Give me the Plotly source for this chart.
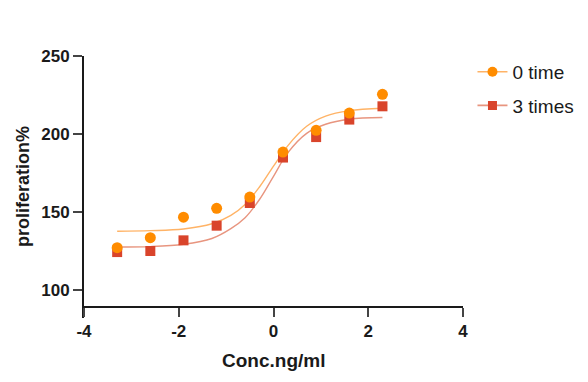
import plotly.graph_objects as go

# measured data
conc = [-3.3, -2.6, -1.9, -1.2, -0.5, 0.2, 0.9, 1.6, 2.3]
time0 = [127.3, 133.7, 146.8, 152.5, 159.7, 188.5, 202.4, 213.5, 225.5]
times3 = [124.5, 125.2, 132.0, 141.4, 155.9, 185.0, 198.1, 209.3, 217.8]

# fitted curves
curve_x = [-3.3, -2.6, -1.9, -1.3, -0.9, -0.6, -0.3, 0.0, 0.3, 0.7, 1.1, 1.6, 2.3]
curve0 = [137.8, 138.2, 139.3, 142.6, 148.0, 155.0, 166.0, 179.5, 192.5, 205.0, 211.5, 215.0, 216.6]
curve3 = [127.7, 128.0, 129.5, 133.2, 139.5, 146.5, 158.0, 173.0, 188.0, 200.5, 206.3, 209.5, 210.6]

names = ["0 time", "3 times"]
x_ticks = [-4, -2, 0, 2, 4]
x_labels = ["-4", "-2", "0", "2", "4"]
y_ticks = [100, 150, 200, 250]
x_title = "Conc.ng/ml"
y_title = "proliferation%"

c0_mk, c0_ln = "#FF8C00", "#FFB366"
c3_mk, c3_ln = "#D9442B", "#E8957F"
INK = "#1a1a1a"
FONT = "Arial, Liberation Sans, sans-serif"

fig = go.Figure()
fig.add_trace(go.Scatter(x=curve_x, y=curve0, mode="lines", line=dict(color=c0_ln, width=1.4, shape="spline"), showlegend=False))
fig.add_trace(go.Scatter(x=curve_x, y=curve3, mode="lines", line=dict(color=c3_ln, width=1.4, shape="spline"), showlegend=False))
fig.add_trace(go.Scatter(x=conc, y=times3, mode="markers", marker=dict(symbol="square", size=10, color=c3_mk), showlegend=False))
fig.add_trace(go.Scatter(x=conc, y=time0, mode="markers", marker=dict(symbol="circle", size=11, color=c0_mk), showlegend=False))
# legend entries
fig.add_trace(go.Scatter(x=[None], y=[None], mode="lines+markers", name=names[0], legendgroup="a",
                         line=dict(color=c0_ln, width=1.6), marker=dict(symbol="circle", size=10, color=c0_mk)))
fig.add_trace(go.Scatter(x=[None], y=[None], mode="lines+markers", name=names[1], legendgroup="b",
                         line=dict(color=c3_ln, width=1.6), marker=dict(symbol="square", size=9, color=c3_mk)))

fig.update_layout(
    width=580, height=374,
    margin=dict(l=76, r=125, t=48, b=64, autoexpand=False),
    plot_bgcolor="white", paper_bgcolor="white",
    font=dict(family=FONT, size=15, color=INK),
    legend=dict(x=1.025, y=1.012, xanchor="left", yanchor="top", tracegroupgap=6,
                font=dict(family=FONT, size=19, color=INK), bgcolor="rgba(0,0,0,0)"),
    xaxis=dict(range=[-4, 4], tickvals=x_ticks, ticktext=x_labels, ticks="outside", ticklen=9, tickwidth=2,
               showline=True, linewidth=2, linecolor=INK, showgrid=False, zeroline=False,
               anchor="free", position=0.042, automargin=False,
               tickfont=dict(family=FONT, size=17, color=INK, weight="bold")),
    yaxis=dict(range=[82.3, 250], tickvals=y_ticks, ticks="outside", ticklen=9, tickwidth=2,
               showline=True, linewidth=2, linecolor=INK, showgrid=False, zeroline=False, automargin=False,
               tickfont=dict(family=FONT, size=17, color=INK, weight="bold")),
    annotations=[
        dict(text=f"<b>{x_title}</b>", xref="paper", yref="paper", x=0.5, y=0, yshift=-42,
             xanchor="center", yanchor="middle", showarrow=False, font=dict(family=FONT, size=19, color=INK)),
        dict(text=f"<b>{y_title}</b>", xref="paper", yref="paper", x=0, y=0.5, xshift=-61, textangle=-90,
             xanchor="center", yanchor="middle", showarrow=False, font=dict(family=FONT, size=18, color=INK)),
    ],
)

fig.write_html("out.html")
